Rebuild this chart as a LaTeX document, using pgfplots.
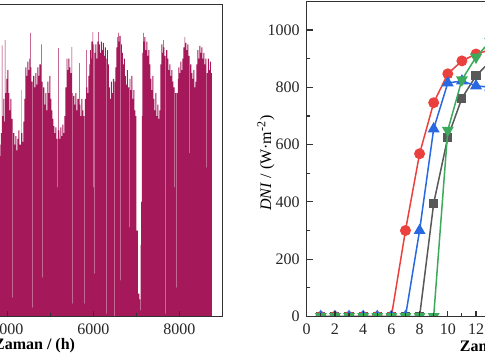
\documentclass[border=0pt]{standalone}
\usepackage{fontspec}
\setmainfont{Liberation Serif}
\usepackage{pgfplots}
\pgfplotsset{compat=1.18}
\definecolor{barcol}{RGB}{165,25,90}
\definecolor{cred}{RGB}{235,65,62}
\definecolor{cblue}{RGB}{40,105,225}
\definecolor{cgray}{RGB}{88,88,88}
\definecolor{cgreen}{RGB}{60,170,92}
\definecolor{frame}{RGB}{50,50,50}
\pgfplotsset{
  myaxis/.style={
    scale only axis,
    axis on top,
    tick pos=left,
    tick align=inside,
    axis line style={frame, line width=0.6pt},
    every tick/.style={frame, line width=0.6pt},
    major tick length=3pt,
    minor tick length=1.8pt,
    /pgf/number format/assume math mode=true,
    /pgf/number format/1000 sep={},
    scaled ticks=false,
    tick label style={font=\fontsize{8}{9.6}\selectfont, text=black!85},
    label style={font=\fontsize{8}{9.6}\selectfont, text=black},
  }
}
\begin{document}
\begin{tikzpicture}
\path[use as bounding box, clip] (0,0) rectangle (242.5pt,180pt);
% left panel
\begin{axis}[myaxis,
  at={(-82.35pt,21.75pt)}, anchor=south west,
  width=193.5pt, height=156.1pt,
  xmin=0, xmax=9000, ymin=0, ymax=1090,
  xtick={0,2000,4000,6000,8000}, minor x tick num=1,
  ytick={0,200,400,600,800,1000}, minor y tick num=1,
  xlabel={\textbf{Zaman / (h)}},
  xlabel style={at={(axis description cs:0.515,0)}, anchor=base, yshift=-16.5pt},
]
\addplot[const plot, fill=barcol, draw=none] coordinates {
(3768,650)(3814,600)(3837,560)(3849,640)(3872,947)(3884,700)(3907,760)(3926,680)(3942,965)(3954,780)(3977,830)(4000,860)(4023,780)(4047,720)(4070,760)(4093,690)(4123,66)(4135,640)(4163,600)(4186,630)(4209,580)(4233,620)(4256,650)(4279,600)(4319,790)(4330,640)(4349,610)(4372,680)(4396,760)(4419,870)(4442,840)(4465,890)(4489,860)(4512,900)(4528,990)(4540,870)(4558,820)(4589,31)(4600,840)(4628,800)(4651,850)(4675,810)(4698,870)(4721,840)(4744,880)(4784,950)(4796,820)(4821,136)(4833,800)(4861,740)(4884,780)(4907,720)(4930,820)(4954,780)(4977,840)(5000,760)(5024,720)(5047,690)(5070,665)(5093,640)(5117,660)(5140,620)(5163,451)(5175,650)(5186,937)(5198,650)(5210,620)(5233,660)(5256,630)(5279,670)(5303,640)(5326,700)(5349,800)(5379,900)(5396,860)(5419,900)(5442,870)(5465,850)(5496,941)(5507,780)(5517,45)(5528,770)(5559,740)(5582,780)(5605,720)(5628,760)(5670,885)(5682,740)(5698,700)(5721,760)(5745,720)(5768,700)(5791,45)(5803,760)(5831,930)(5842,800)(5861,780)(5884,840)(5907,880)(5924,930)(5942,900)(5958,960)(5984,993)(5996,451)(6005,950)(6017,150)(6028,920)(6047,950)(6070,900)(6093,960)(6117,993)(6128,950)(6152,920)(6175,960)(6198,930)(6221,955)(6245,910)(6268,940)(6291,900)(6310,10)(6321,930)(6338,880)(6361,800)(6384,760)(6408,820)(6431,780)(6454,830)(6482,0)(6494,820)(6512,870)(6535,940)(6559,975)(6575,990)(6587,960)(6605,980)(6635,126)(6647,950)(6663,920)(6687,880)(6710,900)(6733,840)(6756,810)(6780,860)(6803,800)(6831,311)(6842,830)(6861,790)(6884,840)(6908,760)(6931,790)(6954,720)(6977,700)(7001,300)(7036,80)(7070,60)(7094,250)(7101,21)(7110,400)(7129,700)(7140,920)(7157,990)(7168,960)(7187,975)(7210,930)(7233,960)(7256,910)(7280,930)(7303,880)(7326,830)(7350,790)(7373,840)(7396,760)(7419,720)(7443,780)(7466,700)(7489,740)(7512,690)(7536,720)(7559,880)(7582,950)(7605,920)(7622,965)(7633,940)(7652,910)(7682,10)(7694,930)(7722,900)(7745,860)(7768,880)(7791,840)(7815,860)(7838,820)(7861,800)(7891,451)(7903,780)(7931,101)(7943,780)(7966,830)(7978,870)(8001,850)(8024,890)(8047,860)(8071,900)(8094,940)(8124,975)(8136,955)(8164,930)(8187,950)(8210,910)(8240,570)(8252,880)(8280,850)(8303,830)(8326,860)(8350,800)(8373,820)(8396,880)(8420,930)(8443,900)(8466,945)(8489,920)(8513,940)(8536,900)(8559,920)(8582,880)(8606,900)(8629,520)(8641,850)(8664,900)(8687,860)(8711,890)(8734,850)(8760,0)
} \closedcycle;
\end{axis}
% right panel
\begin{axis}[myaxis,
  at={(153.35pt,21.75pt)}, anchor=south west,
  width=183.4pt, height=157.6pt,
  xmin=0, xmax=26, ymin=0, ymax=1100,
  xtick={0,2,...,26}, minor x tick num=1,
  ytick={0,200,400,600,800,1000}, minor y tick num=1,
  clip marker paths=true,
  xlabel={\textbf{Zaman / (h)}},
  xlabel style={at={(axis description cs:0.528,0)}, anchor=base, yshift=-17.5pt},
  ylabel={\textit{DNI} / (W·m\textsuperscript{-2})},
  ylabel style={at={(axis description cs:-0.0973,0.487)}, anchor=base},
  every axis plot/.append style={line width=0.75pt},
]
\addplot[color=cgray, mark=square*, mark size=1.9pt, mark options={fill=cgray, solid}] coordinates {
(1,0)(2,0)(3,0)(4,0)(5,0)(6,0)(7,0)(8,0)(9,395)(10,625)(11,762)(12,840)(13,890)(14,895)(15,870)(16,830)(17,740)(18,600)(19,390)(20,0)(21,0)(22,0)(23,0)(24,0)};
\addplot[color=cred, mark=*, mark size=2.35pt, mark options={fill=cred, solid}] coordinates {
(1,0)(2,0)(3,0)(4,0)(5,0)(6,0)(7,300)(8,568)(9,746)(10,847)(11,892)(12,916)(13,930)(14,918)(15,893)(16,848)(17,748)(18,566)(19,298)(20,0)(21,0)(22,0)(23,0)(24,0)};
\addplot[color=cblue, mark=triangle*, mark size=2.7pt, mark options={fill=cblue, solid}] coordinates {
(1,0)(2,0)(3,0)(4,0)(5,0)(6,0)(7,0)(8,300)(9,655)(10,815)(11,822)(12,805)(13,800)(14,812)(15,818)(16,812)(17,655)(18,300)(19,0)(20,0)(21,0)(22,0)(23,0)(24,0)};
\addplot[color=cgreen, mark=triangle*, mark size=2.7pt, mark options={fill=cgreen, solid, rotate=180}] coordinates {
(1,0)(2,0)(3,0)(4,0)(5,0)(6,0)(7,0)(8,0)(9,0)(10,650)(11,826)(12,905)(13,960)(14,975)(15,960)(16,905)(17,826)(18,650)(19,0)(20,0)(21,0)(22,0)(23,0)(24,0)};
\end{axis}
\end{tikzpicture}
\end{document}
